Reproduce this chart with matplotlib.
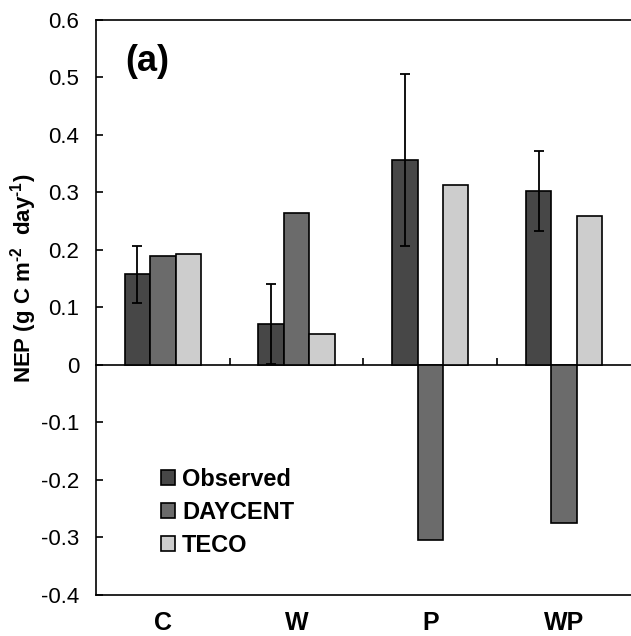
import numpy as np
import matplotlib
matplotlib.use("Agg")
import matplotlib.pyplot as plt

plt.rcParams["font.family"] = ["Liberation Sans", "DejaVu Sans"]
plt.rcParams["mathtext.fontset"] = "custom"
plt.rcParams["mathtext.rm"] = "Liberation Sans:bold"
plt.rcParams["mathtext.bf"] = "Liberation Sans:bold"

categories = ["C", "W", "P", "WP"]
observed = [0.157, 0.071, 0.356, 0.302]
observed_err = [0.050, 0.069, 0.150, 0.070]
daycent = [0.189, 0.263, -0.305, -0.275]
teco = [0.193, 0.053, 0.313, 0.258]

fig = plt.figure(figsize=(6.31, 6.36), dpi=100)
ax = fig.add_axes([0.152, 0.065, 0.848, 0.904])

x = np.arange(len(categories))
w = 0.19
ax.bar(x - w, observed, w, color="#474747", edgecolor="black", linewidth=1.2, label="Observed", zorder=2)
ax.errorbar(x - w, observed, yerr=observed_err, fmt="none", ecolor="black", elinewidth=1.3, capsize=3.5, capthick=1.3, zorder=3)
ax.bar(x, daycent, w, color="#6b6b6b", edgecolor="black", linewidth=1.2, label="DAYCENT", zorder=2)
ax.bar(x + w, teco, w, color="#cdcdcd", edgecolor="black", linewidth=1.2, label="TECO", zorder=2)

ax.set_xlim(-0.5, 3.5)
ax.set_ylim(-0.4, 0.6)
ax.set_yticks(np.arange(-0.4, 0.61, 0.1))
ax.set_yticklabels(["-0.4", "-0.3", "-0.2", "-0.1", "0", "0.1", "0.2", "0.3", "0.4", "0.5", "0.6"])
ax.tick_params(axis="y", direction="in", length=5, width=1.2, labelsize=16, pad=12)
ax.set_xticks(x)
ax.set_xticklabels(categories, fontweight="bold", fontsize=18)
ax.tick_params(axis="x", length=0, pad=12)

ax.spines["right"].set_visible(False)
for s in ["left", "top", "bottom"]:
    ax.spines[s].set_linewidth(1.2)

# zero line with ticks between categories
zero = ax.secondary_xaxis(0.4)
zero.set_xticks([0.5, 1.5, 2.5])
zero.set_xticklabels([])
zero.tick_params(direction="in", length=5, width=1.2)
zero.spines["bottom"].set_linewidth(1.2)

ax.set_ylabel("NEP (g C m$^{\\text{-2}}$  day$^{\\text{-1}}$)", fontsize=16, fontweight="bold")
ax.yaxis.set_label_coords(-0.106, 0.55)
ax.text(0.054, 0.928, "(a)", transform=ax.transAxes, fontsize=26, fontweight="bold", va="center")

ax.legend(loc="lower left", bbox_to_anchor=(0.10, 0.045), frameon=False, prop={"weight": "bold", "size": 17},
          handlelength=0.58, handleheight=0.58, handletextpad=0.3, labelspacing=0.42, borderpad=0)

fig.savefig("out.png", dpi=100)
